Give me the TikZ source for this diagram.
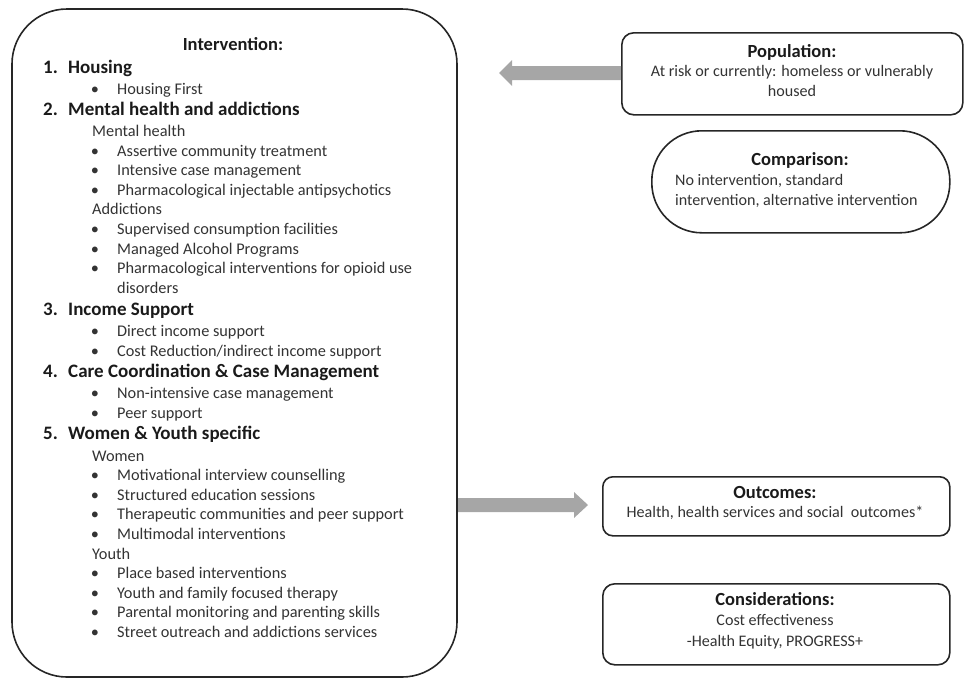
\documentclass[tikz,border=0pt]{standalone}
\usepackage{fontspec}
\setmainfont{Carlito}
\usetikzlibrary{shapes.arrows}
\definecolor{txt}{HTML}{333333}
\definecolor{ttl}{HTML}{1A1A1A}
\definecolor{arr}{HTML}{A6A6A6}
\begin{document}
\begin{tikzpicture}[x=1pt,y=-1pt,
  lbl/.style={inner sep=0pt,text height=0.7em,text depth=0.2em,anchor=west,text=txt,font=\fontsize{16.3}{19}\selectfont},
  hd/.style={inner sep=0pt,text height=0.7em,text depth=0.2em,anchor=west,text=ttl,font=\fontsize{19}{22}\selectfont\bfseries},
  bul/.style={inner sep=0pt,text height=0.7em,text depth=0.2em,anchor=center,text=txt,font=\fontsize{16.3}{19}\selectfont},
  ttlc/.style={inner sep=0pt,text height=0.7em,text depth=0.2em,anchor=center,text=ttl,font=\fontsize{18.5}{22}\selectfont\bfseries},
  bodyc/.style={inner sep=0pt,text height=0.7em,text depth=0.2em,anchor=center,text=txt,font=\fontsize{16.1}{19}\selectfont},
  box/.style={draw=black!85,line width=1.6pt},
  fat/.style={fill=arr,draw=none}
]
\useasboundingbox (0,0) rectangle (965,681);

% frames
\draw[box,rounded corners=55pt] (12,9) rectangle (457,677);
\node[box,rounded corners=12pt,minimum width=341pt,minimum height=82pt,anchor=north west] (pop) at (621,32) {};
\node[box,rounded corners=50pt,minimum width=298pt,minimum height=102pt,anchor=north west] (cmp) at (651,130) {};
\node[box,rounded corners=10pt,minimum width=347pt,minimum height=59pt,anchor=north west] (out) at (602,476) {};
\node[box,rounded corners=12pt,minimum width=347pt,minimum height=81pt,anchor=north west] (con) at (602,583) {};

% arrows
\coordinate (tipL) at (499,73);
\coordinate (tipR) at (588,505);
\fill[fat] (pop.west |- 0,66) -- (512,66) -- (512,60) -- (tipL) -- (512,86) -- (512,80) -- (pop.west |- 0,80) -- cycle;
\fill[fat] (458,498) -- (574,498) -- (574,492) -- (tipR) -- (574,518) -- (574,512) -- (458,512) -- cycle;

% Intervention text
\node[ttlc] (int) at (233,48) {Intervention:};
\node[hd] (n1) at (43,71) {1.};  \node[hd] (h1) at (68,71) {Housing};
\node[bul] (b1) at (95,92) {•}; \node[lbl] (t1) at (117,92) {Housing First};
\node[hd] (n2) at (43,113) {2.}; \node[hd] (h2) at (68,113) {Mental health and addictions};
\node[lbl] (s1) at (92,134) {Mental health};
\node[bul] (b2) at (95,154) {•}; \node[lbl] (t2) at (117,154) {Assertive community treatment};
\node[bul] (b3) at (95,173) {•}; \node[lbl] (t3) at (117,173) {Intensive case management};
\node[bul] (b4) at (95,193) {•}; \node[lbl] (t4) at (117,193) {Pharmacological injectable antipsychotics};
\node[lbl] (s2) at (92,212) {Addictions};
\node[bul] (b5) at (95,232) {•}; \node[lbl] (t5) at (117,232) {Supervised consumption facilities};
\node[bul] (b6) at (95,252) {•}; \node[lbl] (t6) at (117,252) {Managed Alcohol Programs};
\node[bul] (b7) at (95,271) {•}; \node[lbl] (t7) at (117,271) {Pharmacological interventions for opioid use};
\node[lbl] (t7b) at (117,291) {disorders};
\node[hd] (n3) at (43,313) {3.}; \node[hd] (h3) at (68,313) {Income Support};
\node[bul] (b8) at (95,334) {•}; \node[lbl] (t8) at (117,334) {Direct income support};
\node[bul] (b9) at (95,354) {•}; \node[lbl] (t9) at (117,354) {Cost Reduction/indirect income support};
\node[hd] (n4) at (43,375) {4.}; \node[hd] (h4) at (68,375) {Care Coordination \& Case Management};
\node[bul] (b10) at (95,396) {•}; \node[lbl] (t10) at (117,396) {Non-intensive case management};
\node[bul] (b11) at (95,416) {•}; \node[lbl] (t11) at (117,416) {Peer support};
\node[hd] (n5) at (43,437) {5.}; \node[hd] (h5) at (68,437) {Women \& Youth specific};
\node[lbl] (s3) at (92,459) {Women};
\node[bul] (b12) at (95,478) {•}; \node[lbl] (t12) at (117,478) {Motivational interview counselling};
\node[bul] (b13) at (95,498) {•}; \node[lbl] (t13) at (117,498) {Structured education sessions};
\node[bul] (b14) at (95,517) {•}; \node[lbl] (t14) at (117,517) {Therapeutic communities and peer support};
\node[bul] (b15) at (95,537) {•}; \node[lbl] (t15) at (117,537) {Multimodal interventions};
\node[lbl] (s4) at (92,557) {Youth};
\node[bul] (b16) at (95,576) {•}; \node[lbl] (t16) at (117,576) {Place based interventions};
\node[bul] (b17) at (95,596) {•}; \node[lbl] (t17) at (117,596) {Youth and family focused therapy};
\node[bul] (b18) at (95,615) {•}; \node[lbl] (t18) at (117,615) {Parental monitoring and parenting skills};
\node[bul] (b19) at (95,635) {•}; \node[lbl] (t19) at (117,635) {Street outreach and addictions services};

% right boxes text
\node[ttlc] (popT) at (792,55) {Population:};
\node[bodyc] (popA) at (792,74) {At risk or currently: homeless or vulnerably};
\node[bodyc] (popB) at (792,94) {housed};
\node[ttlc] (cmpT) at (800,163) {Comparison:};
\node[bodyc,anchor=west] (cmpA) at (675,183) {No intervention, standard};
\node[bodyc,anchor=west] (cmpB) at (675,203) {intervention, alternative intervention};
\node[ttlc] (outT) at (775,496) {Outcomes:};
\node[bodyc] (outA) at (775,515) {Health, health services and social\ \ outcomes*};
\node[ttlc] (conT) at (775,603) {Considerations:};
\node[bodyc] (conA) at (775,623) {Cost effectiveness};
\node[bodyc] (conB) at (775,644) {-Health Equity, PROGRESS+};
\end{tikzpicture}
\end{document}
